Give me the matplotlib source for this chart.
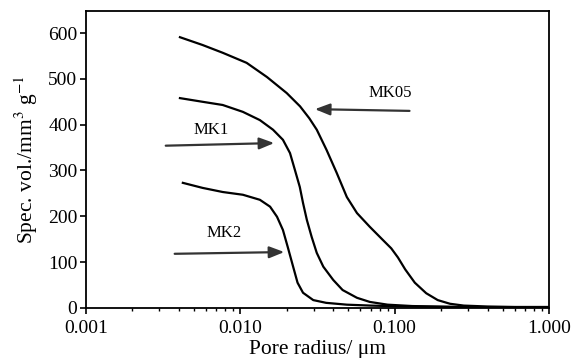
import numpy as np
import matplotlib.pyplot as plt

plt.rcParams['font.family'] = ['Liberation Serif', 'DejaVu Serif']
plt.rcParams['mathtext.fontset'] = 'stix'

# Pore radius (um) and specific volume (mm3/g)
r_mk05 = [0.00407, 0.0057, 0.0077, 0.0110, 0.0149, 0.0200, 0.0244, 0.0280, 0.0313, 0.0362,
          0.0421, 0.049, 0.057, 0.069, 0.084, 0.095, 0.105, 0.117, 0.135, 0.160,
          0.190, 0.228, 0.28, 0.40, 0.60, 1.0]
v_mk05 = [591, 574, 557, 535, 504, 469, 440, 414, 389, 345,
          295, 242, 207, 177, 148, 130, 110, 84, 55, 32,
          17, 9, 5, 3, 2, 2]

r_mk1 = [0.00407, 0.0057, 0.0077, 0.0104, 0.0134, 0.0163, 0.0189, 0.0210, 0.0226, 0.0243,
         0.0255, 0.0270, 0.0290, 0.0313, 0.0345, 0.040, 0.046, 0.057, 0.069, 0.090,
         0.13, 0.25, 0.50, 1.0]
v_mk1 = [458, 450, 443, 428, 410, 389, 367, 338, 301, 264,
         229, 192, 155, 120, 90, 61, 39, 22, 13, 7,
         4, 2, 1, 1]

r_mk2 = [0.00425, 0.0057, 0.0077, 0.0104, 0.0134, 0.0156, 0.0173, 0.0189, 0.0203, 0.0220,
         0.0235, 0.0255, 0.0297, 0.036, 0.049, 0.07, 0.12, 0.25, 0.50, 1.0]
v_mk2 = [273, 262, 253, 247, 236, 221, 199, 170, 133, 90,
         55, 33, 17, 11, 7, 5, 3, 2, 1, 1]

fig = plt.figure(figsize=(5.72, 3.58), dpi=100)
ax = fig.add_axes([0.150, 0.140, 0.810, 0.829])

for r, v in [(r_mk05, v_mk05), (r_mk1, v_mk1), (r_mk2, v_mk2)]:
    ax.plot(r, v, color='black', lw=1.6)

ax.set_xscale('log')
ax.set_xlim(0.001, 1.0)
ax.set_ylim(0, 648)
ax.set_xticks([0.001, 0.01, 0.1, 1.0])
ax.set_xticklabels(['0.001', '0.010', '0.100', '1.000'])
ax.set_yticks([0, 100, 200, 300, 400, 500, 600])
ax.tick_params(labelsize=14, width=1.2, length=4, direction='out')
ax.tick_params(axis='x', pad=5)
ax.tick_params(axis='y', pad=2)
ax.tick_params(which='minor', length=2.5, width=1.0)
for s in ax.spines.values():
    s.set_linewidth(1.3)

ax.set_xlabel('Pore radius/ \u03bcm', fontsize=15.5, labelpad=2)
ax.set_ylabel('Spec. vol./mm$^3$ g$^{-1}$', fontsize=15.5, labelpad=6)

# Arrow annotations
arrow_kw = dict(arrowstyle='-|>,head_length=0.9,head_width=0.35', color='#333333', lw=1.6)
ax.annotate('', xy=(0.0292, 434), xytext=(0.130, 430), arrowprops=arrow_kw)
ax.text(0.0935, 469, 'MK05', fontsize=12, ha='center', va='center')
ax.annotate('', xy=(0.0173, 360), xytext=(0.00316, 354), arrowprops=arrow_kw)
ax.text(0.00646, 389, 'MK1', fontsize=12, ha='center', va='center')
ax.annotate('', xy=(0.0201, 122), xytext=(0.00361, 118), arrowprops=arrow_kw)
ax.text(0.00784, 164, 'MK2', fontsize=12, ha='center', va='center')

plt.savefig('out.png', dpi=100)
